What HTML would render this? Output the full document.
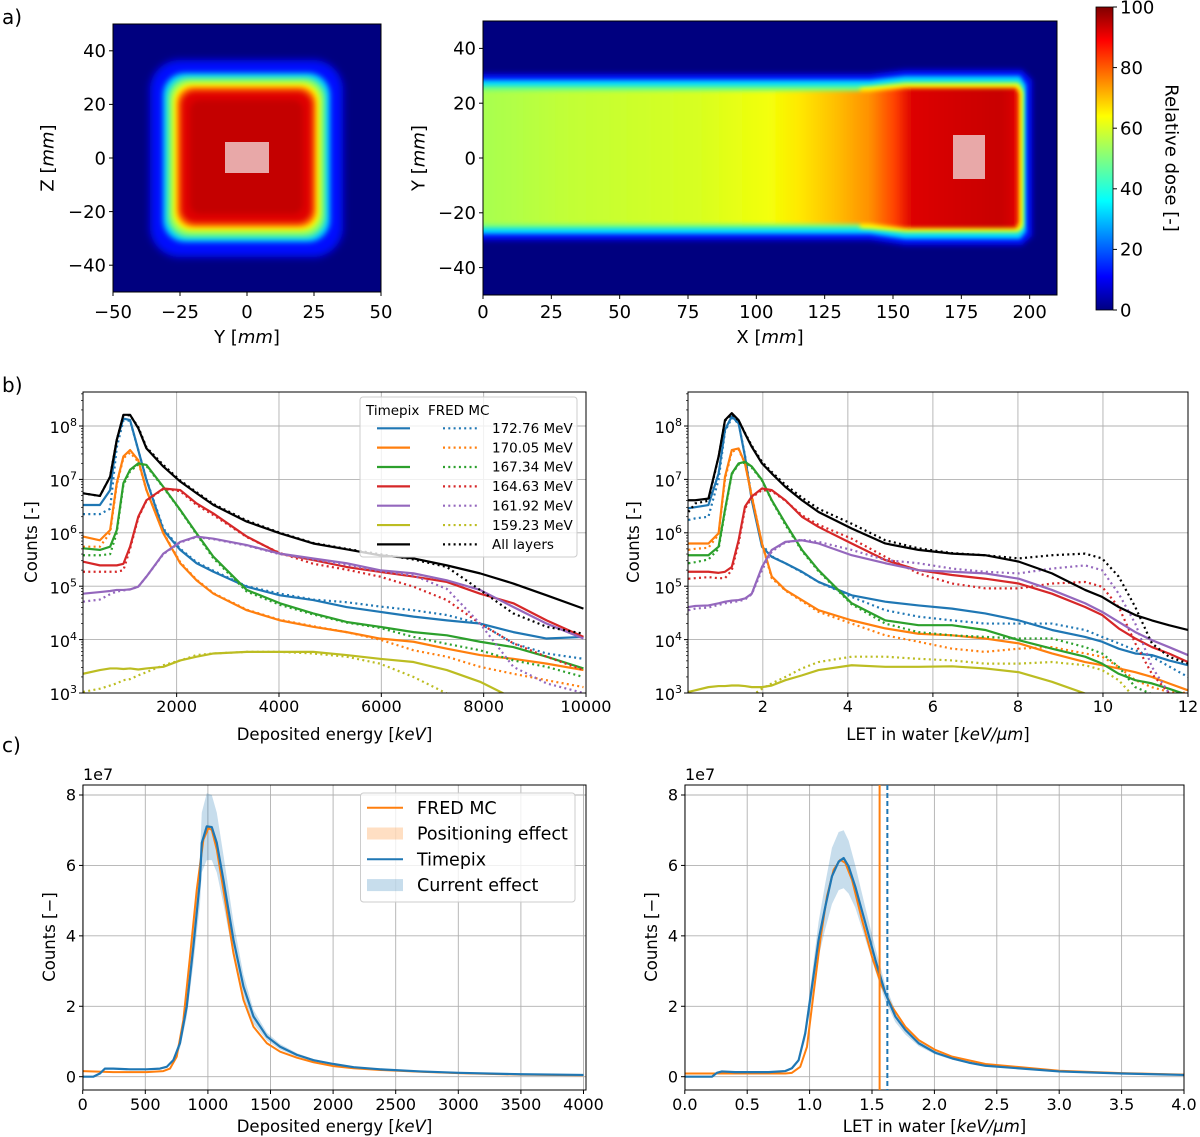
<!DOCTYPE html>
<html><head><meta charset="utf-8"><style>
html,body{margin:0;padding:0;background:#fff;}
svg{display:block;font-family:"DejaVu Sans","Liberation Sans",sans-serif;}
</style></head><body>
<svg id="fig" width="1200" height="1137" viewBox="0 0 1200 1137" xmlns="http://www.w3.org/2000/svg">
<defs>
<filter id="bl4" x="-20%" y="-20%" width="140%" height="140%"><feGaussianBlur stdDeviation="4"/></filter>
<filter id="bl3" x="-20%" y="-20%" width="140%" height="140%"><feGaussianBlur stdDeviation="3"/></filter>
<filter id="bl2" x="-20%" y="-20%" width="140%" height="140%"><feGaussianBlur stdDeviation="2.2"/></filter>
<clipPath id="clipAL"><rect x="113" y="24" width="268" height="268"/></clipPath>
<clipPath id="clipAR"><rect x="483" y="21" width="574" height="274"/></clipPath>
<linearGradient id="beamGrad" gradientUnits="userSpaceOnUse" x1="483" y1="0" x2="1020" y2="0">
<stop offset="0" stop-color="#a8ff50"/><stop offset="0.143" stop-color="#c0ff38"/><stop offset="0.404" stop-color="#d8ff20"/>
<stop offset="0.534" stop-color="#f4ff08"/><stop offset="0.59" stop-color="#ffe800"/><stop offset="0.655" stop-color="#ffc000"/>
<stop offset="0.72" stop-color="#ff9000"/><stop offset="0.767" stop-color="#ff4000"/><stop offset="0.799" stop-color="#dd0000"/>
<stop offset="0.963" stop-color="#c80000"/><stop offset="0.987" stop-color="#d80000"/><stop offset="1" stop-color="#ff2000"/>
</linearGradient>
<linearGradient id="jet" x1="0" y1="1" x2="0" y2="0">
<stop offset="0" stop-color="#000080"/><stop offset="0.11" stop-color="#0000ff"/><stop offset="0.36" stop-color="#00ffff"/>
<stop offset="0.5" stop-color="#80ff80"/><stop offset="0.64" stop-color="#ffff00"/><stop offset="0.89" stop-color="#ff0000"/><stop offset="1" stop-color="#800000"/>
</linearGradient>
</defs>

<text x="2" y="24" font-size="20">a)</text>
<text x="2" y="392" font-size="20">b)</text>
<text x="2" y="752" font-size="20">c)</text>

<g clip-path="url(#clipAL)">
<rect x="113" y="24" width="268" height="268" fill="#00007f"/>
<rect x="150" y="60" width="193" height="197" rx="30" fill="#0010ff" filter="url(#bl4)"/>
<rect x="163" y="73" width="167" height="169" rx="22" fill="#00d0ff" filter="url(#bl3)"/>
<rect x="168" y="78" width="157" height="159" rx="20" fill="#80ff70" filter="url(#bl3)"/>
<rect x="173" y="83" width="147" height="148" rx="18" fill="#ffff00" filter="url(#bl3)"/>
<rect x="177" y="87" width="139" height="140" rx="16" fill="#ff7000" filter="url(#bl3)"/>
<rect x="181" y="91" width="131" height="132" rx="14" fill="#e00000" filter="url(#bl3)"/>
<rect x="190" y="100" width="113" height="114" rx="10" fill="#c40000" filter="url(#bl3)"/>
<rect x="225" y="142" width="44" height="31" fill="#e8a8a8"/>
</g>
<rect x="113" y="24" width="268" height="268" fill="none" stroke="#000" stroke-width="1"/>

<g clip-path="url(#clipAR)">
<rect x="483" y="21" width="574" height="274" fill="#00007f"/>
<polygon points="470,74 870,74 905,70 1022,70 1032,80 1032,236 1022,245 905,245 870,240 470,240" fill="#0010ff" filter="url(#bl3)"/>
<polygon points="470,80 870,80 905,76 1020,76 1026,85 1026,232 1020,239 905,239 870,234 470,234" fill="#00d8ff" filter="url(#bl2)"/>
<polygon points="470,86 870,86 905,82 1018,82 1022,90 1022,228 1018,233 905,233 870,228 470,228" fill="#70ff80" filter="url(#bl2)"/>
<polygon points="860,88 905,84 1019,84 1023,92 1023,226 1019,231 905,231 860,228" fill="#ffff00" filter="url(#bl2)"/>
<polygon points="470,91 870,91 905,88 1016,88 1019,93 1019,223 1016,228 905,228 870,224 470,224" fill="url(#beamGrad)" filter="url(#bl2)"/>
<rect x="953" y="135" width="32" height="44" fill="#e8a8a8"/>
</g>
<rect x="483" y="21" width="574" height="274" fill="none" stroke="#000" stroke-width="1"/>

<rect x="1096" y="7" width="17" height="303" fill="url(#jet)" stroke="#000" stroke-width="0.8"/>
<text x="1172" y="158" font-size="18" text-anchor="middle" transform="rotate(90 1172 158)" dy="0.35em">Relative dose [-]</text>

<g id="dyn"></g>
</svg>
<script>
// ---------- data: panel b (log10 counts) ----------
const bLx = [170,500,700,830,960,1090,1250,1410,1740,2070,2390,2720,3370,4020,4670,5320,5970,6630,7280,7930,8580,9230,9950];
const bL_blue = [6.52,6.52,6.80,7.74,8.14,8.11,7.55,6.99,6.05,5.68,5.43,5.27,4.99,4.83,4.74,4.61,4.52,4.43,4.36,4.30,4.14,4.02,4.05];
const bL_blueF = [6.35,6.35,6.45,7.6,8.1,8.1,7.55,7.0,6.08,5.7,5.45,5.29,5.0,4.86,4.75,4.7,4.62,4.55,4.46,4.30,3.93,3.74,3.64];
const bL_orange = [5.93,5.86,6.05,6.93,7.43,7.55,7.36,6.80,5.99,5.43,5.11,4.86,4.55,4.36,4.24,4.14,4.02,3.96,3.83,3.71,3.64,3.55,3.43];
const bL_orangeF = [5.74,5.74,6.0,6.9,7.4,7.5,7.33,6.8,6.0,5.45,5.12,4.87,4.56,4.37,4.25,4.14,4.0,3.8,3.68,3.49,3.36,3.24,3.11];
const bL_green = [5.71,5.68,5.74,6.05,6.93,7.18,7.30,7.27,6.86,6.43,5.99,5.55,4.93,4.68,4.49,4.33,4.24,4.14,4.08,3.96,3.86,3.68,3.46];
const bL_greenF = [5.58,5.58,5.6,6.0,6.9,7.15,7.28,7.25,6.85,6.42,5.97,5.52,4.9,4.65,4.47,4.32,4.22,4.05,3.92,3.8,3.61,3.49,3.3];
const bL_red = [5.46,5.39,5.39,5.39,5.42,5.74,6.30,6.61,6.83,6.80,6.55,6.36,5.93,5.61,5.49,5.36,5.27,5.18,5.08,4.86,4.68,4.36,4.05];
const bL_redF = [5.27,5.27,5.27,5.27,5.3,5.7,6.28,6.6,6.82,6.78,6.52,6.33,5.92,5.62,5.42,5.31,5.18,4.99,4.74,4.30,3.93,3.68,3.43];
const bL_purple = [4.86,4.89,4.91,4.93,4.93,4.94,4.99,5.18,5.61,5.83,5.93,5.89,5.77,5.61,5.52,5.43,5.30,5.24,5.11,4.93,4.61,4.30,4.02];
const bL_purpleF = [4.71,4.75,4.85,4.9,4.92,4.94,4.99,5.18,5.6,5.82,5.92,5.88,5.76,5.6,5.5,5.4,5.28,5.2,4.95,4.3,3.49,3.18,3.0];
const bL_olive = [3.36,3.43,3.46,3.46,3.45,3.46,3.44,3.46,3.49,3.61,3.68,3.74,3.77,3.77,3.77,3.71,3.64,3.58,3.43,3.21,2.9,2.5,2.5];
const bL_oliveF = [3.02,3.08,3.14,3.18,3.24,3.26,3.33,3.39,3.52,3.61,3.71,3.74,3.77,3.77,3.74,3.68,3.55,3.30,2.99,2.5,2.5,2.5,2.5];
const bL_black = [6.74,6.69,7.05,7.74,8.21,8.21,7.96,7.58,7.24,6.96,6.74,6.52,6.21,5.99,5.80,5.69,5.58,5.52,5.39,5.24,5.05,4.83,4.58];
const bL_blackF = [6.74,6.69,7.05,7.74,8.2,8.2,7.98,7.6,7.27,6.98,6.76,6.54,6.23,6.0,5.81,5.70,5.6,5.5,5.36,4.93,4.49,4.24,4.11];

const bRx = [0.25,0.41,0.72,0.96,1.11,1.27,1.43,1.58,1.74,1.98,2.21,2.53,2.92,3.31,4.09,4.88,5.66,6.45,7.23,8.02,8.80,9.58,9.98,10.37,10.76,11.15,11.55,12.0];
const bR_blue = [6.46,6.48,6.52,7.11,7.93,8.18,8.05,7.43,6.61,5.74,5.55,5.43,5.27,5.08,4.83,4.71,4.64,4.58,4.49,4.36,4.18,4.05,3.96,3.83,3.74,3.71,3.61,3.52];
const bR_blueF = [6.24,6.27,6.3,7.0,7.9,8.15,8.05,7.45,6.65,5.78,5.56,5.43,5.26,5.08,4.80,4.55,4.43,4.36,4.30,4.30,4.30,4.18,4.05,3.93,3.8,3.68,3.5,3.3];
const bR_orange = [5.80,5.80,5.80,5.99,7.05,7.55,7.58,7.30,6.68,5.80,5.18,4.93,4.74,4.55,4.36,4.21,4.11,4.08,4.02,3.93,3.74,3.58,3.52,3.46,3.39,3.30,3.18,3.05];
const bR_orangeF = [5.68,5.7,5.72,5.97,7.0,7.52,7.56,7.3,6.7,5.8,5.15,4.92,4.72,4.52,4.3,4.08,3.96,3.83,3.77,3.83,3.86,3.74,3.68,3.49,3.24,3.11,3.02,3.0];
const bR_green = [5.58,5.58,5.58,5.74,6.43,7.11,7.30,7.33,7.24,6.99,6.61,6.18,5.68,5.30,4.68,4.36,4.27,4.27,4.18,3.99,3.83,3.68,3.55,3.36,3.24,3.18,3.08,2.96];
const bR_greenF = [5.43,5.45,5.5,5.7,6.4,7.1,7.28,7.32,7.22,6.98,6.6,6.15,5.66,5.28,4.66,4.3,4.14,4.08,4.05,4.02,4.02,3.86,3.74,3.49,3.11,2.98,2.9,2.9];
const bR_red = [5.27,5.27,5.27,5.25,5.27,5.36,5.86,6.49,6.68,6.83,6.80,6.61,6.30,6.11,5.80,5.49,5.30,5.21,5.14,5.05,4.86,4.61,4.46,4.21,4.02,3.86,3.74,3.58];
const bR_redF = [5.14,5.15,5.17,5.15,5.15,5.3,5.8,6.45,6.66,6.8,6.78,6.6,6.33,6.15,5.89,5.55,5.24,5.05,4.96,4.96,5.05,5.08,4.99,4.61,3.93,3.36,3.0,2.95];
const bR_purple = [4.61,4.63,4.64,4.68,4.71,4.73,4.74,4.77,4.86,5.36,5.68,5.83,5.86,5.80,5.58,5.43,5.30,5.27,5.24,5.14,4.93,4.68,4.52,4.33,4.14,3.99,3.86,3.71];
const bR_purpleF = [4.55,4.58,4.6,4.65,4.68,4.7,4.72,4.75,4.85,5.3,5.65,5.82,5.87,5.83,5.68,5.49,5.43,5.33,5.27,5.24,5.33,5.39,5.3,4.86,4.3,3.49,3.0,2.9];
const bR_olive = [3.02,3.05,3.11,3.13,3.13,3.14,3.14,3.13,3.11,3.11,3.14,3.24,3.33,3.43,3.52,3.49,3.49,3.50,3.46,3.39,3.21,2.99,2.8,2.8,2.8,2.8,2.8,2.8];
const bR_oliveF = [2.95,2.95,2.95,2.95,2.95,2.95,2.95,2.95,2.95,3.08,3.18,3.30,3.46,3.58,3.68,3.68,3.64,3.61,3.55,3.55,3.58,3.52,3.43,3.24,2.9,2.8,2.8,2.8];
const bR_black = [6.61,6.61,6.64,7.43,8.11,8.24,8.11,7.86,7.61,7.30,7.11,6.86,6.61,6.39,6.08,5.80,5.68,5.61,5.58,5.46,5.24,4.93,4.80,4.61,4.46,4.36,4.27,4.18];
const bR_blackF = [6.39,6.55,6.6,7.43,8.1,8.22,8.1,7.87,7.63,7.33,7.14,6.9,6.66,6.45,6.17,5.86,5.71,5.62,5.58,5.52,5.58,5.61,5.52,5.18,4.61,3.93,3.68,3.55];

const legendLabels = ["172.76 MeV","170.05 MeV","167.34 MeV","164.63 MeV","161.92 MeV","159.23 MeV","All layers"];
const seriesColors = ["#1f77b4","#ff7f0e","#2ca02c","#d62728","#9467bd","#bcbd22","#000000"];

// ---------- data: panel c (counts / 1e7) ----------
const cL_tpx_x = [0,84,137,177,244,377,511,617,671,724,777,831,884,937,951,991,1031,1071,1124,1204,1284,1364,1471,1577,1711,1844,2004,2164,2377,2700,3000,3500,4000];
const cL_tpx = [0,0,0.09,0.23,0.23,0.21,0.21,0.23,0.28,0.47,0.95,1.99,3.70,5.59,6.64,7.11,7.09,6.64,5.59,3.89,2.56,1.71,1.14,0.85,0.62,0.47,0.36,0.27,0.21,0.15,0.11,0.07,0.05];
const cL_tpx_hi = [0,0,0.09,0.23,0.23,0.21,0.21,0.24,0.3,0.52,1.1,2.3,4.2,6.3,7.5,8.05,8.0,7.5,6.3,4.4,2.9,1.9,1.25,0.93,0.67,0.5,0.38,0.28,0.22,0.16,0.11,0.07,0.05];
const cL_tpx_lo = [0,0,0.09,0.23,0.23,0.21,0.21,0.22,0.26,0.42,0.8,1.7,3.2,4.9,5.8,6.15,6.15,5.8,4.9,3.4,2.25,1.5,1.03,0.77,0.57,0.44,0.34,0.26,0.2,0.14,0.11,0.07,0.05];
const cL_fred_x = [0,244,511,644,697,751,804,857,911,964,1004,1031,1071,1124,1204,1284,1364,1471,1577,1711,1844,2004,2164,2377,2700,3000,3500,4000];
const cL_fred = [0.16,0.13,0.13,0.16,0.23,0.57,1.61,3.41,5.31,6.73,7.06,7.01,6.45,5.31,3.51,2.18,1.42,0.95,0.71,0.54,0.41,0.30,0.24,0.19,0.14,0.1,0.06,0.04];

const cR_tpx_x = [0,0.217,0.257,0.297,0.404,0.537,0.671,0.805,0.858,0.912,0.965,1.019,1.072,1.126,1.179,1.233,1.273,1.313,1.366,1.447,1.527,1.607,1.687,1.767,1.874,2.008,2.142,2.275,2.409,3.0,3.5,4.0];
const cR_tpx = [0,0,0.11,0.15,0.13,0.13,0.13,0.16,0.24,0.47,1.23,2.56,3.89,4.83,5.69,6.11,6.21,5.97,5.40,4.36,3.32,2.37,1.71,1.33,0.95,0.68,0.52,0.40,0.31,0.15,0.09,0.05];
const cR_tpx_hi = [0,0,0.11,0.15,0.13,0.13,0.13,0.16,0.26,0.52,1.4,2.9,4.4,5.5,6.5,6.95,7.0,6.7,6.0,4.8,3.65,2.6,1.88,1.45,1.03,0.73,0.56,0.42,0.33,0.16,0.1,0.05];
const cR_tpx_lo = [0,0,0.11,0.15,0.13,0.13,0.13,0.16,0.22,0.42,1.05,2.2,3.4,4.2,4.9,5.3,5.35,5.2,4.8,3.9,3.0,2.15,1.55,1.2,0.87,0.63,0.48,0.38,0.29,0.14,0.08,0.05];
const cR_fred_x = [0,0.805,0.858,0.925,0.979,1.032,1.086,1.139,1.193,1.246,1.286,1.340,1.420,1.500,1.580,1.660,1.767,1.874,2.008,2.142,2.409,3.0,3.5,4.0];
const cR_fred = [0.09,0.09,0.11,0.28,0.85,2.37,3.89,5.12,5.88,6.16,6.07,5.59,4.45,3.41,2.56,1.99,1.42,1.04,0.76,0.57,0.36,0.17,0.1,0.06];
const cR_means = [1.561, 1.623];

// tick arrays
const aL_xticks = [-50,-25,0,25,50];
const aL_yticks = [40,20,0,-20,-40];
const aR_xticks = [0,25,50,75,100,125,150,175,200];
const aR_yticks = [40,20,0,-20,-40];
const cbar_ticks = [0,20,40,60,80,100];
const bL_xticks = [2000,4000,6000,8000,10000];
const bR_xticks = [2,4,6,8,10,12];
const b_ydecades = [3,4,5,6,7,8];
const cL_xticks = [0,500,1000,1500,2000,2500,3000,3500,4000];
const cR_xticks = [0,0.5,1,1.5,2,2.5,3,3.5,4];
const c_yticks = [0,2,4,6,8];

const NS = "http://www.w3.org/2000/svg";
const root = document.getElementById('dyn');
function mk(tag, attrs, name, inter, parent) {
  const e = document.createElementNS(NS, tag);
  for (const k in attrs) e.setAttribute(k, attrs[k]);
  
  
  (parent || root).appendChild(e);
  return e;
}
function fmtMinus(v){ return String(v).replace('-', '\u2212'); }

// scales
const lin = (d0,d1,r0,r1) => v => r0 + (v-d0)*(r1-r0)/(d1-d0);
const aLx = lin(-50,50,113,381), aLy = lin(50,-50,24,292);
const aRx = lin(0,210,483,1057), aRy = lin(50,-50,21,295);
const cbY = lin(0,100,310,7);
const bLX = lin(170,10000,83,586), bRX = lin(0.24,12,688,1188);
const bY = lin(8,3,426,693);
const cLX = lin(0,4000,82.7,583.5), cRX = lin(0,4,684.8,1184);
const cY = lin(0,8,1076.7,795);

const boxes = {
  bL:{x0:83,x1:586,y0:392,y1:693}, bR:{x0:688,x1:1188,y0:392,y1:693},
  cL:{x0:83,x1:586,y0:785,y1:1090}, cR:{x0:685,x1:1184,y0:785,y1:1090}
};

// clip paths
const defs = document.querySelector('defs');
for (const k in boxes) {
  const b = boxes[k];
  const cp = document.createElementNS(NS,'clipPath'); cp.setAttribute('id','clip'+k);
  const r = document.createElementNS(NS,'rect');
  r.setAttribute('x',b.x0); r.setAttribute('y',b.y0); r.setAttribute('width',b.x1-b.x0); r.setAttribute('height',b.y1-b.y0);
  cp.appendChild(r); defs.appendChild(cp);
}

function tickText(x,y,str,anchor,size,name){
  const t = mk('text',{x:x,y:y,'font-size':size,'text-anchor':anchor},name,'false');
  t.textContent = str;
  return t;
}
function xTicks(vals, sx, yb, size, base, name, fmt){
  vals.forEach(v=>{
    const x = sx(v);
    const tk = mk('line',{x1:x,x2:x,y1:yb,y2:yb+4,stroke:'#000','stroke-width':1},name+'-tick','false');
    tickText(x, yb+base, fmt?fmt(v):fmtMinus(v), 'middle', size, name+'-label');
  });
}
function yTicks(vals, sy, xl, size, name, fmt){
  vals.forEach(v=>{
    const y = sy(v);
    const tk = mk('line',{x1:xl-4,x2:xl,y1:y,y2:y,stroke:'#000','stroke-width':1},name+'-tick','false');
    const t = tickText(xl-7, y, fmt?fmt(v):fmtMinus(v), 'end', size, name+'-label');
    t.setAttribute('dy','0.35em');
  });
}
function grid(box, xv, sx, yv, sy, name){
  xv.forEach(v=>{ const x=sx(v); if(x<box.x0-0.5||x>box.x1+0.5) return;
    const g = mk('line',{x1:x,x2:x,y1:box.y0,y2:box.y1,stroke:'#b0b0b0','stroke-width':0.9},name+'-vgrid','false'); });
  yv.forEach(v=>{ const y=sy(v);
    const g = mk('line',{x1:box.x0,x2:box.x1,y1:y,y2:y,stroke:'#b0b0b0','stroke-width':0.9},name+'-hgrid','false'); });
}
function frame(box,name){
  const f = mk('rect',{x:box.x0,y:box.y0,width:box.x1-box.x0,height:box.y1-box.y0,fill:'none',stroke:'#000','stroke-width':1},name,'false');
}
function label(x,y,parts,size,rot,name){
  const attrs = {x:x,y:y,'font-size':size,'text-anchor':'middle'};
  if (rot) { attrs.transform = 'rotate(-90 '+x+' '+y+')'; attrs.dy='0.35em'; }
  const t = mk('text',attrs,name,'false');
  parts.forEach(p=>{ const s=document.createElementNS(NS,'tspan'); s.textContent=p[0]; if(p[1]) s.setAttribute('font-style','italic'); t.appendChild(s); });
  return t;
}
function path(xs, ys, sx, sy, clip, stroke, width, dash, name){
  let d = '';
  for (let i=0;i<xs.length;i++) d += (i?'L':'M') + sx(xs[i]).toFixed(2) + ',' + sy(ys[i]).toFixed(2);
  const attrs = {d:d,fill:'none',stroke:stroke,'stroke-width':width,'stroke-linejoin':'round','clip-path':'url(#clip'+clip+')'};
  if (dash) attrs['stroke-dasharray'] = dash;
  return mk('path',attrs,name,'false');
}
function band(xs, lo, hi, sx, sy, clip, fill, name){
  let d = '';
  for (let i=0;i<xs.length;i++) d += (i?'L':'M') + sx(xs[i]).toFixed(2) + ',' + sy(hi[i]).toFixed(2);
  for (let i=xs.length-1;i>=0;i--) d += 'L' + sx(xs[i]).toFixed(2) + ',' + sy(lo[i]).toFixed(2);
  d += 'Z';
  return mk('path',{d:d,fill:fill,'fill-opacity':0.25,stroke:'none','clip-path':'url(#clip'+clip+')'},name,'false');
}

// ---------- panel a ticks ----------
xTicks(aL_xticks, aLx, 292, 18, 26, 'yz-x-tick');
yTicks(aL_yticks, aLy, 113, 18, 'yz-y-tick');
label(247, 343, [['Y ['],['mm',1],[']']], 18, false, 'yz-x-axis-title');
label(47, 158, [['Z ['],['mm',1],[']']], 18, true, 'yz-y-axis-title');
xTicks(aR_xticks, aRx, 295, 18, 23, 'xy-x-tick');
yTicks(aR_yticks, aRy, 483, 18, 'xy-y-tick');
label(770, 343, [['X ['],['mm',1],[']']], 18, false, 'xy-x-axis-title');
label(418, 158, [['Y ['],['mm',1],[']']], 18, true, 'xy-y-axis-title');
cbar_ticks.forEach(v=>{
  const y = cbY(v);
  const tk = mk('line',{x1:1113,x2:1117,y1:y,y2:y,stroke:'#000','stroke-width':1},'colorbar-tick','false');
  const t = tickText(1120, y, String(v), 'start', 18, 'colorbar-tick-label');
  t.setAttribute('dy','0.35em');
});

// ---------- panel b ----------
function logTickLabel(x,y,e,name){
  const t = mk('text',{x:x,y:y,'font-size':16,'text-anchor':'end',dy:'0.45em'},name,'false');
  t.appendChild(document.createTextNode('10'));
  const s = document.createElementNS(NS,'tspan'); s.setAttribute('dy','-7'); s.setAttribute('font-size','11'); s.textContent=String(e);
  t.appendChild(s);
}
function panelB(key, xs, sx, xticks, fmtx, series, xtitle, ytitleX, withLegend){
  const box = boxes[key];
  grid(box, xticks, sx, b_ydecades, bY, key);
  b_ydecades.forEach(e=>{
    const y=bY(e);
    const tk = mk('line',{x1:box.x0-4,x2:box.x0,y1:y,y2:y,stroke:'#000','stroke-width':1},key+'-y-tick','false');
    logTickLabel(box.x0-6, y, e, key+'-y-tick-label');
    for (let m=2;m<=9;m++){ const ym = bY(e+Math.log10(m)); if (ym<box.y0) continue;
      const mt = mk('line',{x1:box.x0-2,x2:box.x0,y1:ym,y2:ym,stroke:'#000','stroke-width':0.7},key+'-y-minor-tick','false'); }
  });
  xTicks(xticks, sx, box.y1, 16, 19, key+'-x-tick', fmtx);
  series.forEach((s,i)=>{
    path(xs, s[1], sx, bY, key, seriesColors[i], 2.2, '2,3.3', key+'-fred-'+legendLabels[i].replace(/[ .]/g,'-').toLowerCase());
    path(xs, s[0], sx, bY, key, seriesColors[i], 2.2, null, key+'-timepix-'+legendLabels[i].replace(/[ .]/g,'-').toLowerCase());
  });
  frame(box, key+'-frame');
  label((box.x0+box.x1)/2, 740, xtitle, 16.5, false, key+'-x-axis-title');
  label(ytitleX, 542, [['Counts [-]']], 16.5, true, key+'-y-axis-title');
}
panelB('bL', bLx, bLX, bL_xticks, null,
  [[bL_blue,bL_blueF],[bL_orange,bL_orangeF],[bL_green,bL_greenF],[bL_red,bL_redF],[bL_purple,bL_purpleF],[bL_olive,bL_oliveF],[bL_black,bL_blackF]],
  [['Deposited energy ['],['keV',1],[']']], 31);
panelB('bR', bRx, bRX, bR_xticks, null,
  [[bR_blue,bR_blueF],[bR_orange,bR_orangeF],[bR_green,bR_greenF],[bR_red,bR_redF],[bR_purple,bR_purpleF],[bR_olive,bR_oliveF],[bR_black,bR_blackF]],
  [['LET in water ['],['keV/\u03bcm',1],[']']], 633);

// legend b
const lgB = mk('g',{},'energy-legend','false');
mk('rect',{x:360,y:397,width:217,height:160,rx:3,fill:'#fff','fill-opacity':0.8,stroke:'#ccc','stroke-width':1},'energy-legend-box','false',lgB);
const lt1 = mk('text',{x:366,y:415,'font-size':13.5},'legend-header-timepix','false',lgB); lt1.textContent='Timepix';
const lt2 = mk('text',{x:428,y:415,'font-size':13.5},'legend-header-fred','false',lgB); lt2.textContent='FRED MC';
legendLabels.forEach((lab,i)=>{
  const y = 428.3 + i*19.35;
  const l1 = mk('line',{x1:377,x2:410,y1:y,y2:y,stroke:seriesColors[i],'stroke-width':2.2},'legend-timepix-line','true',lgB);
  const l2 = mk('line',{x1:443,x2:477,y1:y,y2:y,stroke:seriesColors[i],'stroke-width':2.2,'stroke-dasharray':'2,3.3'},'legend-fred-line','true',lgB);
  const t = mk('text',{x:492,y:y,'font-size':13.5,dy:'0.35em'},'legend-entry','true',lgB);
  t.textContent = lab;
});

// ---------- panel c ----------
function panelC(key, sx, xticks, fmtx, tx, tpx, lo, hi, fx, fred, xtitle, ytitleX){
  const box = boxes[key];
  grid(box, xticks, sx, c_yticks, cY, key);
  xTicks(xticks, sx, box.y1, 16, 20, key+'-x-tick', fmtx);
  yTicks(c_yticks, cY, box.x0, 16, key+'-y-tick');
  band(tx, lo, hi, sx, cY, key, '#1f77b4', key+'-current-effect-band');
  path(fx, fred, sx, cY, key, '#ff7f0e', 2, null, key+'-fred-line');
  path(tx, tpx, sx, cY, key, '#1f77b4', 2.2, null, key+'-timepix-line');
  frame(box, key+'-frame');
  const e = mk('text',{x:box.x0,y:780,'font-size':16},key+'-scale-label','false'); e.textContent='1e7';
  label((box.x0+box.x1)/2, 1132, xtitle, 16.5, false, key+'-x-axis-title');
  label(ytitleX, 937, [['Counts [\u2212]']], 16.5, true, key+'-y-axis-title');
}
panelC('cL', cLX, cL_xticks, v=>String(v), cL_tpx_x, cL_tpx, cL_tpx_lo, cL_tpx_hi, cL_fred_x, cL_fred,
  [['Deposited energy ['],['keV',1],[']']], 49);
panelC('cR', cRX, cR_xticks, v=>v.toFixed(1), cR_tpx_x, cR_tpx, cR_tpx_lo, cR_tpx_hi, cR_fred_x, cR_fred,
  [['LET in water ['],['keV/\u03bcm',1],[']']], 651);
// mean LET lines
const mx1 = cRX(cR_means[0]), mx2 = cRX(cR_means[1]);
mk('line',{x1:mx1,x2:mx1,y1:785,y2:1090,stroke:'#ff7f0e','stroke-width':2},'fred-mean-let-line','false');
mk('line',{x1:mx2,x2:mx2,y1:785,y2:1090,stroke:'#1f77b4','stroke-width':2,'stroke-dasharray':'5,3'},'timepix-mean-let-line','false');

// legend c
const lgC = mk('g',{},'effect-legend','false');
mk('rect',{x:360.5,y:793,width:214.5,height:109,rx:3,fill:'#fff','fill-opacity':0.8,stroke:'#ccc','stroke-width':1},'effect-legend-box','false',lgC);
const cLeg = [['FRED MC','line','#ff7f0e'],['Positioning effect','patch','#ff7f0e'],['Timepix','line','#1f77b4'],['Current effect','patch','#1f77b4']];
cLeg.forEach((c,i)=>{
  const y = 807.7 + i*25.8;
  if (c[1]==='line') mk('line',{x1:367,x2:403,y1:y,y2:y,stroke:c[2],'stroke-width':2},'legend-swatch','true',lgC);
  else mk('rect',{x:367,y:y-6,width:36,height:12,fill:c[2],'fill-opacity':0.25},'legend-swatch','true',lgC);
  const t = mk('text',{x:417,y:y,'font-size':17.5,dy:'0.35em'},'legend-entry','true',lgC);
  t.textContent = c[0];
});
</script>
</body></html>
